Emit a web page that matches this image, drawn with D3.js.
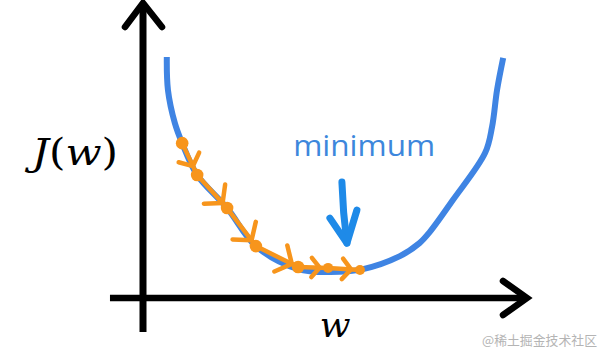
<!DOCTYPE html>
<html>
<head>
<meta charset="utf-8">
<script src="https://cdn.jsdelivr.net/npm/d3@7"></script>
<style>
  html, body { margin: 0; padding: 0; background: #ffffff; }
  svg { display: block; }
</style>
</head>
<body>
<svg id="chart" width="600" height="351"></svg>
<script>
// ---- data ----
const curveW = [0.62, 0.65, 0.83, 1.02, 1.41, 2.19, 2.94, 4.04, 4.87, 5.73, 6.69, 7.20, 7.47, 8.07, 8.91, 9.09, 9.22, 9.38];
const curveJ = [8.17, 7.05, 5.93, 5.25, 4.17, 3.05, 1.76, 0.98, 0.88, 0.98, 1.42, 1.86, 2.24, 3.32, 4.92, 5.80, 7.05, 8.14];
const stepW  = [1.02, 1.41, 2.19, 2.94, 4.04, 4.82, 5.65];
const stepJ  = [5.25, 4.17, 3.05, 1.76, 1.05, 1.02, 0.95];
const minArrowW = [5.18, 5.31];
const minArrowJ = [3.93, 1.86];
const minLabel = "minimum";
const xLabel = "w";
const yLabelParts = [["J", true], ["(", false], ["w", true], [")", false]];
const watermark = "@稀土掘金技术社区";

// ---- scales ----
const x = d3.scaleLinear().domain([0, 10]).range([143, 527]);
const y = d3.scaleLinear().domain([0, 10]).range([298, 3]);

const svg = d3.select("#chart");

// ---- axes (arrows) ----
const axisG = svg.append("g").attr("stroke", "#000").attr("fill", "none");
axisG.append("line")
  .attr("x1", x(0)).attr("x2", x(0))
  .attr("y1", y(-1.15)).attr("y2", y(10) + 3)
  .attr("stroke-width", 7);
axisG.append("polyline")
  .attr("points", [[x(0) - 18, y(10) + 24], [x(0), y(10)], [x(0) + 19, y(10) + 24]].map(p => p.join(",")).join(" "))
  .attr("stroke-width", 6.5).attr("stroke-linecap", "round").attr("stroke-linejoin", "miter");
axisG.append("line")
  .attr("x1", x(-0.86)).attr("x2", x(10) - 3)
  .attr("y1", y(0)).attr("y2", y(0))
  .attr("stroke-width", 6.5);
axisG.append("polyline")
  .attr("points", [[x(10) - 24, y(0) - 17], [x(10), y(0)], [x(10) - 24, y(0) + 17]].map(p => p.join(",")).join(" "))
  .attr("stroke-width", 6.5).attr("stroke-linecap", "round").attr("stroke-linejoin", "miter");

// ---- cost curve ----
const curvePts = curveW.map((w, i) => [w, curveJ[i]]);
svg.append("path")
  .attr("d", d3.line().x(d => x(d[0])).y(d => y(d[1])).curve(d3.curveCatmullRom.alpha(0.5))(curvePts))
  .attr("fill", "none")
  .attr("stroke", "#3f84e3")
  .attr("stroke-width", 6)
  .attr("stroke-linecap", "butt");

// ---- gradient descent steps ----
const orange = "#f7951c";
const stepPts = stepW.map((w, i) => [x(w), y(stepJ[i])]);
const og = svg.append("g").attr("stroke", orange).attr("fill", "none")
  .attr("stroke-linecap", "round").attr("stroke-linejoin", "round");
og.append("path")
  .attr("d", d3.line()(stepPts))
  .attr("stroke-width", 4.5);
for (let i = 0; i < stepPts.length - 1; i++) {
  const [x0, y0] = stepPts[i], [x1, y1] = stepPts[i + 1];
  const dx = x1 - x0, dy = y1 - y0, len = Math.hypot(dx, dy);
  const t = len > 40 ? 0.85 : 0.72;
  const tx = x0 + dx * t, ty = y0 + dy * t;
  const back = Math.atan2(-dy, -dx);
  const L = Math.min(19, len * 0.42);
  const a = 50 * Math.PI / 180;
  const p1 = [tx + L * Math.cos(back + a), ty + L * Math.sin(back + a)];
  const p2 = [tx + L * Math.cos(back - a), ty + L * Math.sin(back - a)];
  og.append("polyline")
    .attr("points", [p1, [tx, ty], p2].map(p => p.join(",")).join(" "))
    .attr("stroke-width", 4.5);
}
svg.append("g").selectAll("circle")
  .data(stepPts)
  .join("circle")
  .attr("cx", d => d[0]).attr("cy", d => d[1])
  .attr("r", (d, i) => i < 5 ? 6.3 : 5)
  .attr("fill", orange);

// ---- minimum annotation ----
const ax0 = x(minArrowW[0]), ay0 = y(minArrowJ[0]);
const ax1 = x(minArrowW[1]), ay1 = y(minArrowJ[1]);
const mg = svg.append("g").attr("stroke", "#1e8ae8").attr("fill", "none")
  .attr("stroke-width", 7).attr("stroke-linecap", "round").attr("stroke-linejoin", "round");
mg.append("path")
  .attr("d", `M${ax0},${ay0} Q${ax0 + 1},${(ay0 + ay1) / 2} ${ax1},${ay1}`);
mg.append("polyline")
  .attr("points", [[ax1 - 17, ay1 - 25], [ax1, ay1], [ax1 + 10, ay1 - 33]].map(p => p.join(",")).join(" "));

svg.append("text")
  .attr("x", x(3.91)).attr("y", y(4.81))
  .attr("font-family", "Open Sans, sans-serif")
  .attr("font-size", 29)
  .attr("fill", "#3d87dc")
  .attr("textLength", 142)
  .attr("lengthAdjust", "spacingAndGlyphs")
  .text(minLabel);

// ---- axis labels ----
svg.append("text")
  .attr("x", x(4.6)).attr("y", y(-1.32))
  .attr("font-family", "DejaVu Serif, serif")
  .attr("font-style", "italic")
  .attr("font-size", 36)
  .attr("fill", "#000")
  .text(xLabel);

const yl = svg.append("text")
  .attr("x", 32).attr("y", y(4.5))
  .attr("font-family", "DejaVu Serif, serif")
  .attr("font-size", 37)
  .attr("fill", "#000")
  .attr("textLength", 86)
  .attr("lengthAdjust", "spacingAndGlyphs");
yLabelParts.forEach(([s, it]) => {
  yl.append("tspan").attr("font-style", it ? "italic" : "normal").text(s);
});

// ---- watermark ----
svg.append("text")
  .attr("x", 482).attr("y", 345)
  .attr("font-family", "Noto Sans CJK SC, sans-serif")
  .attr("font-size", 13)
  .attr("fill", "#b4b4b4")
  .attr("textLength", 115)
  .attr("lengthAdjust", "spacingAndGlyphs")
  .text(watermark);
</script>
</body>
</html>
